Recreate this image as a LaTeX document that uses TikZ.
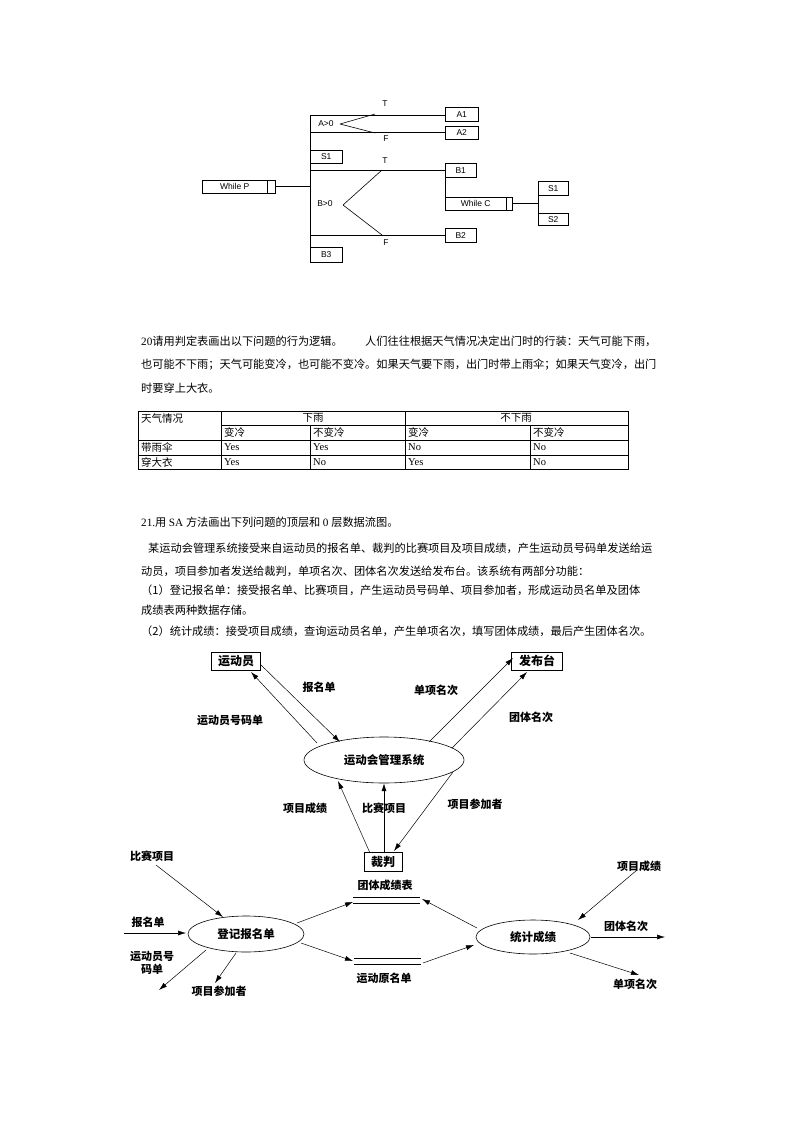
\documentclass[tikz,border=0pt]{standalone}
\usepackage{fontspec}
\setmainfont{Liberation Serif}
\newfontfamily\cjk{Noto Sans CJK SC}
\newfontfamily\arl{Liberation Sans}
\usetikzlibrary{shapes.geometric,arrows.meta}
\tikzset{
  nsbox/.style={draw,rectangle,inner sep=0pt,anchor=north west,font=\arl\fontsize{8.5}{9}\selectfont},
  ln/.style={line width=0.6pt},
  para/.style={anchor=west,inner sep=0pt,font=\fontsize{11.2}{12}\selectfont},
  tbl/.style={inner sep=0pt,font=\fontsize{10.5}{11}\selectfont},
  dl/.style={inner sep=0pt,font=\cjk\bfseries\fontsize{11}{12}\selectfont},
  ar/.style={line width=0.5pt,-{Latex[length=8pt,width=5pt]}},
  ent/.style={draw,line width=0.8pt,inner sep=2pt,font=\cjk\bfseries\fontsize{12}{13}\selectfont},
  proc/.style={draw,ellipse,line width=0.6pt,inner sep=0pt,font=\cjk\bfseries\fontsize{11.5}{12}\selectfont},
}
\begin{document}
\begin{tikzpicture}[x=1pt,y=-1pt]
\useasboundingbox (0,0) rectangle (800,1132);
\fill[white] (0,0) rectangle (800,1132);
% ---------- N-S / PAD diagram ----------
\node[nsbox,minimum width=73pt,minimum height=13pt] (wp) at (202,180) {\hspace*{-8pt}While P};
\draw[ln] (267,180) -- (267,193);
\draw[ln] (275,186) -- (310,186);
\draw[ln] (310,115) -- (310,262);
\node[nsbox,minimum width=32pt,minimum height=13pt] (s1) at (310,150) {S1};
\node[nsbox,minimum width=32pt,minimum height=15pt] (b3) at (310,247) {B3};
\node[nsbox,minimum width=33pt,minimum height=14pt] (a1) at (445,107) {A1};
\node[nsbox,minimum width=33pt,minimum height=13pt] (a2) at (445,126) {A2};
\node[nsbox,minimum width=31pt,minimum height=14pt] (b1) at (445,163) {B1};
\node[nsbox,minimum width=31pt,minimum height=14pt] (b2) at (445,228) {B2};
\node[nsbox,minimum width=67pt,minimum height=13pt] (wc) at (445,197) {\hspace*{-6pt}While C};
\draw[ln] (506,197) -- (506,210);
\node[nsbox,minimum width=30pt,minimum height=14pt] (s1b) at (538,181) {S1};
\node[nsbox,minimum width=30pt,minimum height=12pt] (s2) at (538,213) {S2};
\draw[ln] (310,115) -- (445,115) (310,132) -- (445,132);
\draw[ln] (340,124) -- (375,114) (340,124) -- (375,133);
\node[font=\arl\fontsize{8.5}{9}\selectfont,inner sep=0pt] (ca) at (326,124) {A>0};
\node[font=\arl\fontsize{8.5}{9}\selectfont,inner sep=0pt] (ta) at (385,104) {T};
\node[font=\arl\fontsize{8.5}{9}\selectfont,inner sep=0pt] (fa) at (386,139) {F};
\draw[ln] (310,170) -- (445,170) (310,235) -- (445,235);
\draw[ln] (343,205) -- (382,170) (343,205) -- (382,235);
\node[font=\arl\fontsize{8.5}{9}\selectfont,inner sep=0pt] (cb) at (325,204) {B>0};
\node[font=\arl\fontsize{8.5}{9}\selectfont,inner sep=0pt] (tb) at (385,161) {T};
\node[font=\arl\fontsize{8.5}{9}\selectfont,inner sep=0pt] (fb) at (386,243) {F};
\draw[ln] (445,177) -- (445,210);
\draw[ln] (512,203) -- (538,203);
\draw[ln] (538,181) -- (538,225);
% ---------- question 20 ----------
\node[para] (p1) at (141,341) {20\cjk 请用判定表画出以下问题的行为逻辑。　　人们往往根据天气情况决定出门时的行装：天气可能下雨，};
\node[para] (p2) at (141,365) {\cjk 也可能不下雨；天气可能变冷，也可能不变冷。如果天气要下雨，出门时带上雨伞；如果天气变冷，出门};
\node[para] (p3) at (141,388) {\cjk 时要穿上大衣。};
% table
\draw[line width=0.6pt] (138,411) rectangle (628,469);
\draw[line width=0.5pt] (221,425) -- (628,425) (138,440) -- (628,440) (138,455) -- (628,455);
\draw[line width=0.5pt] (221,411) -- (221,469) (405,411) -- (405,469) (310,425) -- (310,469) (530,425) -- (530,469);
\node[tbl,anchor=west] (t0) at (141,418) {\cjk 天气情况};
\node[tbl] (t1) at (313,418) {\cjk 下雨};
\node[tbl] (t2) at (516,418) {\cjk 不下雨};
\foreach \x/\s in {224/变冷,313/不变冷,408/变冷,533/不变冷}{\node[tbl,anchor=west] at (\x,432) {\cjk \s};}
\node[tbl,anchor=west] (r1) at (141,447) {\cjk 带雨伞};
\node[tbl,anchor=west] (r2) at (141,462) {\cjk 穿大衣};
\foreach \x/\s in {224/Yes,313/Yes,408/No,533/No}{\node[tbl,anchor=west] at (\x,447) {\s};}
\foreach \x/\s in {224/Yes,313/No,408/Yes,533/No}{\node[tbl,anchor=west] at (\x,462) {\s};}
% ---------- question 21 ----------
\node[para] (q1) at (141,522) {21.\cjk 用 \rmfamily SA \cjk 方法画出下列问题的顶层和 \rmfamily 0 \cjk 层数据流图。};
\node[para] (q2) at (148,548) {\cjk 某运动会管理系统接受来自运动员的报名单、裁判的比赛项目及项目成绩，产生运动员号码单发送给运};
\node[para] (q3) at (141,571) {\cjk 动员，项目参加者发送给裁判，单项名次、团体名次发送给发布台。该系统有两部分功能：};
\node[para] (q4) at (141,590) {\cjk （1）登记报名单：接受报名单、比赛项目，产生运动员号码单、项目参加者，形成运动员名单及团体};
\node[para] (q5) at (141,610) {\cjk 成绩表两种数据存储。};
\node[para] (q6) at (141,631) {\cjk （2）统计成绩：接受项目成绩，查询运动员名单，产生单项名次，填写团体成绩，最后产生团体名次。};
% ---------- DFD top level ----------
\node[ent,minimum width=49pt,minimum height=18pt] (ath) at (236,661) {运动员};
\node[ent,minimum width=51pt,minimum height=18pt] (pub) at (537,661) {发布台};
\node[proc,minimum width=160pt,minimum height=46pt] (sys) at (384,760) {运动会管理系统};
\node[ent,minimum width=38pt,minimum height=19pt] (jdg) at (383,862) {裁判};
\draw[ar] (261,665) -- (340,742);
\draw[ar] (317,743) -- (251,672);
\draw[ar] (429,742) -- (513,658);
\draw[ar] (452,748) -- (527,672);
\draw[ar] (370,853) -- (338,781);
\draw[ar,line width=1pt] (384,853) -- (384,783);
\draw[ar] (453,772) -- (394,851);
\node[dl] (l1) at (319,687) {报名单};
\node[dl] (l2) at (230,720) {运动员号码单};
\node[dl] (l3) at (436,690) {单项名次};
\node[dl] (l4) at (531,717) {团体名次};
\node[dl] (l5) at (305,808) {项目成绩};
\node[dl] (l6) at (384,808) {比赛项目};
\node[dl] (l7) at (475,804) {项目参加者};
% ---------- DFD level 0 ----------
\node[proc,minimum width=116pt,minimum height=36pt] (reg) at (246,934) {登记报名单};
\node[proc,minimum width=114pt,minimum height=34pt] (sta) at (533,937) {统计成绩};
\draw[line width=0.6pt] (353,897) -- (420,897) (353,903) -- (420,903);
\draw[line width=0.6pt] (354,958) -- (421,958) (354,964) -- (421,964);
\node[dl] (ds1) at (385,885) {团体成绩表};
\node[dl] (ds2) at (384,978) {运动原名单};
\coordinate (c1) at (156,865); \coordinate (c2) at (124,933);
\coordinate (c3) at (159,990); \coordinate (c4) at (215,983);
\coordinate (c5) at (637,870); \coordinate (c6) at (665,937); \coordinate (c7) at (639,975);
\draw[ar] (c1) -- (223,917);
\draw[ar] (c2) -- (186,933);
\draw[ar] (206,950) -- (c3);
\draw[ar] (236,953) -- (c4);
\draw[ar] (297,923) -- (353,902);
\draw[ar] (301,943) -- (353,961);
\draw[ar] (477,928) -- (422,899);
\draw[ar] (423,963) -- (474,945);
\draw[ar] (c5) -- (578,920);
\draw[ar] (591,937) -- (c6);
\draw[ar] (570,953) -- (c7);
\node[dl] (m1) at (152,856) {比赛项目};
\node[dl] (m2) at (148,922) {报名单};
\node[dl,align=center,font=\cjk\bfseries\fontsize{11}{13}\selectfont] (m3) at (152,963) {运动员号\\码单};
\node[dl] (m4) at (219,991) {项目参加者};
\node[dl] (m5) at (639,866) {项目成绩};
\node[dl] (m6) at (626,926) {团体名次};
\node[dl] (m7) at (635,984) {单项名次};
\end{tikzpicture}
\end{document}
